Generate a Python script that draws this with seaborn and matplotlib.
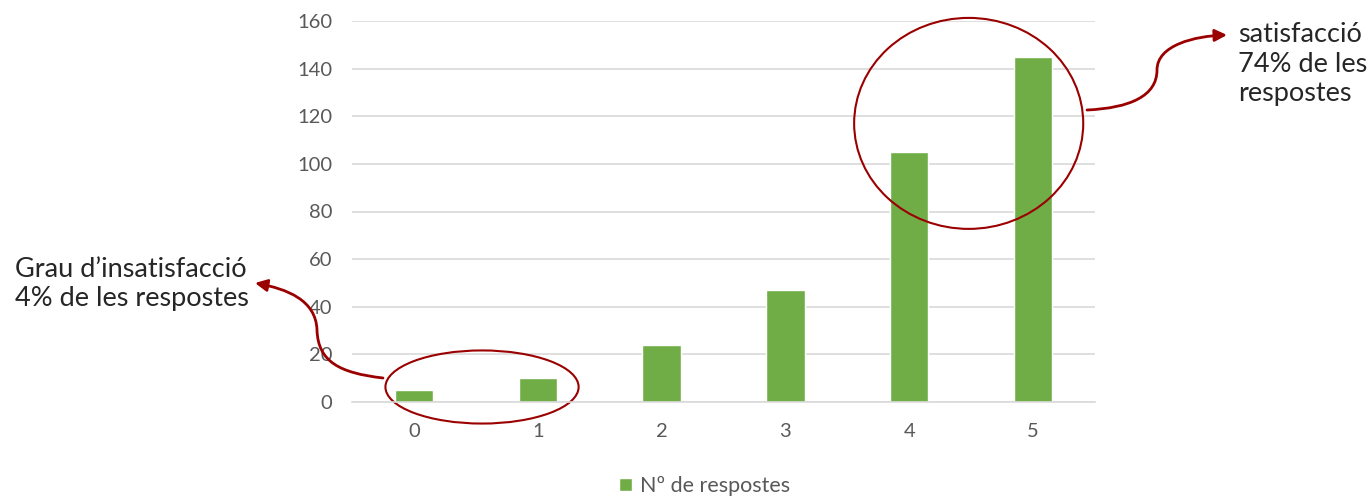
import numpy as np
import matplotlib.pyplot as plt
import seaborn as sns
from matplotlib.patches import Ellipse, FancyArrowPatch
from matplotlib.path import Path

# data
categories = ['0', '1', '2', '3', '4', '5']
responses = [5, 10, 24, 47, 105, 145]
series_name = 'Nº de respostes'
y_ticks = [0, 20, 40, 60, 80, 100, 120, 140, 160]
note_low = 'Grau d\u2019insatisfacció\n4% de les respostes'
note_high = 'satisfacció\n74% de les\nrespostes'

W, H = 1371, 496
sns.set_style('white')
plt.rcParams['font.family'] = ['Lato', 'DejaVu Sans']

fig = plt.figure(figsize=(W / 100, H / 100), dpi=100)
ax = fig.add_axes([352 / W, 1 - 402 / H, 743 / W, 381 / H])

sns.barplot(x=categories, y=responses, color='#70AD47', width=0.31,
            saturation=1, label=series_name, ax=ax)

ax.set_ylim(0, 160)
ax.set_xlim(-0.5, 5.5)
ax.set_yticks(y_ticks)
ax.yaxis.grid(True, color='#d9d9d9', lw=1.2)
ax.set_axisbelow(True)
for s in ['top', 'right', 'left']:
    ax.spines[s].set_visible(False)
ax.spines['bottom'].set_color('#d9d9d9')
ax.spines['bottom'].set_linewidth(1.2)
ax.tick_params(length=0, labelsize=14.5, labelcolor='#595959')
ax.tick_params(axis='y', pad=14)
ax.tick_params(axis='x', pad=15)
ax.set_xlabel('')
ax.set_ylabel('')
ax.legend().remove()

fig.legend(*ax.get_legend_handles_labels(), loc='center', bbox_to_anchor=(0.514, 0.02),
           frameon=False, fontsize=15.5, labelcolor='#595959', handlelength=0.6,
           handleheight=0.6, handletextpad=0.4)

red = '#9b0000'
ax.add_patch(Ellipse((0.55, 6.3), 1.56, 30.7, fill=False, ec=red, lw=1.5, clip_on=False))
ax.add_patch(Ellipse((4.48, 117), 1.85, 88.6, fill=False, ec=red, lw=1.5, clip_on=False))


def px(x, y):
    return (x / W, 1 - y / H)


codes = [Path.MOVETO, Path.CURVE4, Path.CURVE4, Path.CURVE4,
         Path.CURVE4, Path.CURVE4, Path.CURVE4]
left_pts = [px(383, 378), px(340, 373), px(318, 362), px(317, 330),
            px(316, 300), px(287, 289), px(255, 283)]
right_pts = [px(1087, 110), px(1130, 108), px(1157, 96), px(1157, 70),
             px(1157, 45), px(1195, 36), px(1227, 35)]
for pts in [left_pts, right_pts]:
    arr = FancyArrowPatch(path=Path(pts, codes), arrowstyle='-|>', mutation_scale=18,
                          color=red, lw=2, transform=fig.transFigure)
    fig.add_artist(arr)

fig.text(15 / W, 1 - 284 / H, note_low, fontsize=19.5, va='center', ha='left',
         linespacing=1.2)
fig.text(1238 / W, 1 - 64 / H, note_high, fontsize=19.5, va='center', ha='left',
         linespacing=1.2)

fig.savefig('out.png', dpi=100)
